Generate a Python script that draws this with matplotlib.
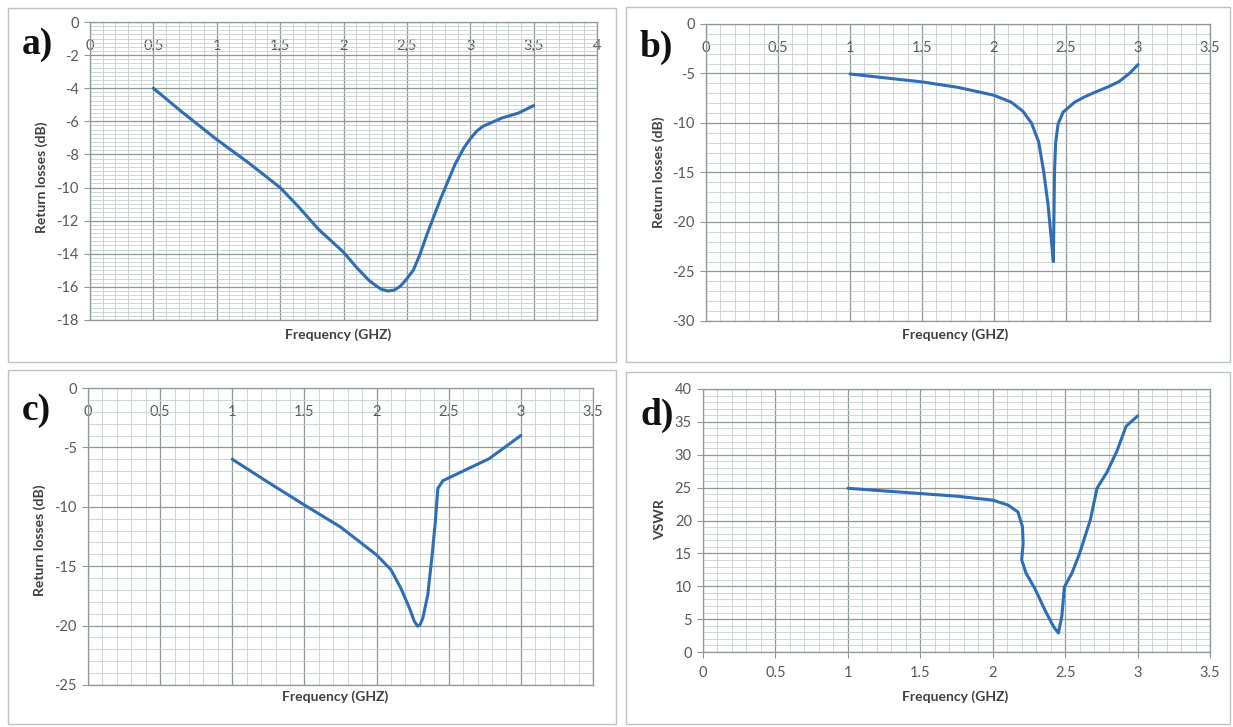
import matplotlib.pyplot as plt
from matplotlib.ticker import MultipleLocator, FuncFormatter
from matplotlib.patches import Rectangle

W, H = 1233, 727

# a) return losses, first antenna
freq_a = [0.5, 0.72, 1.0, 1.25, 1.5, 1.65, 1.8, 2.0, 2.1, 2.2, 2.26, 2.3, 2.35, 2.4,
          2.45, 2.5, 2.55, 2.6, 2.66, 2.77, 2.88, 2.95, 3.0, 3.05, 3.1, 3.25, 3.38, 3.5]
rl_a = [-4.0, -5.4, -7.1, -8.5, -10.0, -11.2, -12.5, -13.9, -14.8, -15.6, -15.95, -16.15, -16.25, -16.2,
        -15.95, -15.5, -15.0, -14.1, -12.8, -10.6, -8.6, -7.6, -7.05, -6.6, -6.3, -5.8, -5.5, -5.05]

# b) return losses, second antenna
freq_b = [1.0, 1.25, 1.5, 1.75, 2.0, 2.12, 2.2, 2.26, 2.31, 2.345, 2.375, 2.397,
          2.412, 2.416, 2.42, 2.428, 2.445, 2.48, 2.56, 2.63, 2.7, 2.8, 2.87, 2.94, 3.0]
rl_b = [-5.05, -5.45, -5.85, -6.4, -7.2, -7.9, -8.8, -10.0, -11.9, -14.9, -18.2, -21.6,
        -24.0, -20.0, -15.0, -12.0, -10.1, -8.9, -7.9, -7.35, -6.9, -6.3, -5.8, -5.0, -4.1]

# c) return losses, third antenna
freq_c = [1.0, 1.25, 1.5, 1.75, 2.0, 2.1, 2.17, 2.227, 2.262, 2.285, 2.3, 2.32, 2.355,
          2.383, 2.407, 2.42, 2.425, 2.46, 2.59, 2.78, 3.0]
rl_c = [-6.0, -7.95, -9.85, -11.7, -14.05, -15.3, -16.9, -18.5, -19.65, -20.05, -19.95, -19.4, -17.4,
        -14.3, -11.3, -9.2, -8.45, -7.8, -7.05, -5.95, -4.0]

# d) VSWR
freq_d = [1.0, 1.25, 1.5, 1.75, 2.0, 2.105, 2.174, 2.205, 2.21, 2.2, 2.23, 2.29, 2.36,
          2.42, 2.453, 2.477, 2.495, 2.547, 2.6, 2.674, 2.72, 2.79, 2.86, 2.92, 3.0]
vswr_d = [24.9, 24.5, 24.1, 23.7, 23.1, 22.35, 21.3, 19.1, 16.5, 14.0, 12.0, 9.7, 6.4,
          3.85, 2.9, 5.4, 9.9, 12.0, 15.0, 20.1, 24.9, 27.4, 30.7, 34.3, 35.9]

LINE = '#2f6db5'
MAJOR = '#8e9a9a'
MINOR = '#c8d0d0'
TICK = '#595959'
LABEL = '#404040'


def box(l, t, r, b):
    return [l / W, 1 - b / H, (r - l) / W, (b - t) / H]


def fx(x):
    return x / W


def fy(y):
    return 1 - y / H


fig = plt.figure(figsize=(W / 100, H / 100), dpi=100)

# panel frames
for l, t, r, b in [(8, 8, 616, 362), (626, 7, 1230, 362), (8, 370, 616, 724), (626, 372, 1230, 724)]:
    fig.patches.append(Rectangle((fx(l), fy(b)), (r - l) / W, (b - t) / H, fill=False,
                                 ec='#bcc6c6', lw=1.0, transform=fig.transFigure))

panels = [
    dict(rect=box(90, 22, 597, 320), x=freq_a, y=rl_a, xmax=4, ylim=(-18, 0), ymaj=2, ymin=0.25,
         comma=True, top=True, letter=('a)', 22, 45), ylab=('Return losses (dB)', 42, 177), xlab=(338, 335)),
    dict(rect=box(706, 24, 1210, 321), x=freq_b, y=rl_b, xmax=3.5, ylim=(-30, 0), ymaj=5, ymin=1,
         comma=False, top=True, letter=('b)', 640, 47), ylab=('Return losses (dB)', 659, 172), xlab=(955, 335)),
    dict(rect=box(88, 388, 593, 685), x=freq_c, y=rl_c, xmax=3.5, ylim=(-25, 0), ymaj=5, ymin=1,
         comma=False, top=True, letter=('c)', 22, 410), ylab=('Return losses (dB)', 40, 540), xlab=(335, 697)),
    dict(rect=box(703, 389, 1210, 652), x=freq_d, y=vswr_d, xmax=3.5, ylim=(0, 40), ymaj=5, ymin=1,
         comma=False, top=False, letter=('d)', 640, 415), ylab=('VSWR', 660, 520), xlab=(955, 697)),
]

for p in panels:
    ax = fig.add_axes(p['rect'])
    ax.plot(p['x'], p['y'], color=LINE, lw=2.2, solid_joinstyle='round', solid_capstyle='round', zorder=3)
    ax.set_xlim(0, p['xmax'])
    ax.set_ylim(*p['ylim'])
    ax.xaxis.set_major_locator(MultipleLocator(0.5))
    ax.xaxis.set_minor_locator(MultipleLocator(0.1))
    ax.yaxis.set_major_locator(MultipleLocator(p['ymaj']))
    ax.yaxis.set_minor_locator(MultipleLocator(p['ymin']))
    if p['comma']:
        ax.xaxis.set_major_formatter(FuncFormatter(lambda v, pos: f'{v:g}'.replace('.', ',')))
    else:
        ax.xaxis.set_major_formatter(FuncFormatter(lambda v, pos: f'{v:g}'))
    ax.yaxis.set_major_formatter(FuncFormatter(lambda v, pos: f'{v:g}'))
    ax.set_axisbelow(True)
    ax.grid(which='major', color=MAJOR, lw=0.9)
    ax.grid(which='minor', color=MINOR, lw=0.6)
    for s in ax.spines.values():
        s.set_color(MAJOR)
        s.set_linewidth(0.9)
    ax.tick_params(which='minor', length=0)
    ax.tick_params(axis='y', which='major', length=4, color=MAJOR, labelcolor=TICK, labelsize=10.5, pad=4)
    if p['top']:
        ax.tick_params(axis='x', which='major', bottom=False, labelbottom=False, top=False,
                       labeltop=True, length=0, pad=-22, labelcolor=TICK, labelsize=10.5)
    else:
        ax.tick_params(axis='x', which='major', length=4, color=MAJOR, labelcolor=TICK,
                       labelsize=10.5, pad=6)
    for lab in ax.get_xticklabels() + ax.get_yticklabels():
        lab.set_fontfamily('Lato')

    text, lx, ly = p['letter']
    fig.text(fx(lx), fy(ly), text, fontfamily='Liberation Serif', fontweight='bold',
             fontsize=27, ha='left', va='center', color='#111111')
    text, lx, ly = p['ylab']
    fig.text(fx(lx), fy(ly), text, rotation=90, fontfamily='Lato', fontweight='bold',
             fontsize=10, ha='center', va='center', color=LABEL)
    lx, ly = p['xlab']
    fig.text(fx(lx), fy(ly), 'Frequency (GHZ)', fontfamily='Lato', fontweight='bold',
             fontsize=10, ha='center', va='center', color=LABEL)

fig.savefig('out.png', dpi=100, facecolor='white')
